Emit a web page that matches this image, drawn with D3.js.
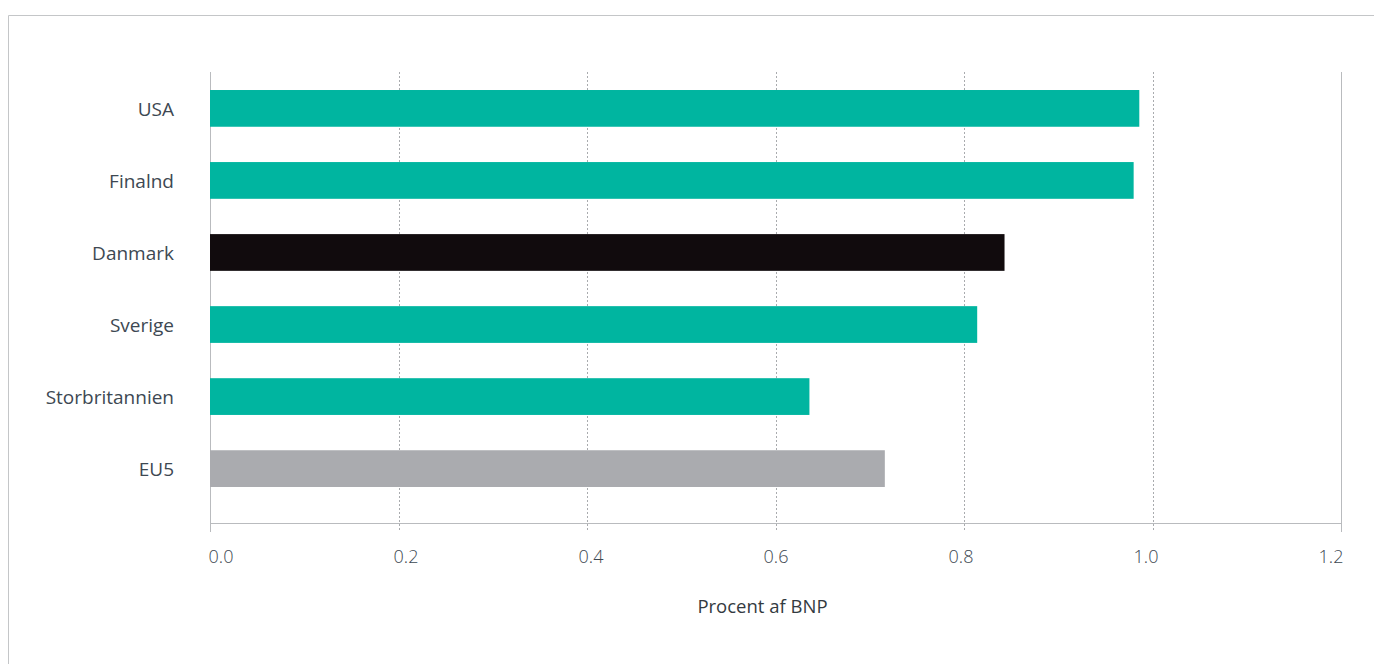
<!DOCTYPE html>
<html><head><meta charset="utf-8">
<script src="https://cdn.jsdelivr.net/npm/d3@7"></script>
<style>body{margin:0;background:#fff;} svg{display:block;}</style>
</head><body>
<script>
const categories = ["USA", "Finalnd", "Danmark", "Sverige", "Storbritannien", "EU5"];
const values = [0.986, 0.980, 0.843, 0.814, 0.636, 0.716];
const barColors = ["#00b5a0", "#00b5a0", "#110b0d", "#00b5a0", "#00b5a0", "#aaabaf"];
const xTicks = [0, 0.2, 0.4, 0.6, 0.8, 1.0, 1.2];
const xTitle = "Procent af BNP";

(function () {
const W = 1374, H = 664;
const svg = d3.select("body").append("svg").attr("width", W).attr("height", H);
const font = "'Open Sans', 'DejaVu Sans', sans-serif";
const textColor = "#3d4852";

// frame
svg.append("path").attr("d", `M8.5,${H} V15.5 H${W}`).attr("fill", "none").attr("stroke", "#c4c6c8").attr("stroke-width", 1);

const x = d3.scaleLinear().domain([0, 1.2]).range([210, 1341]);
// tick labels are spread slightly inside the axis span in the reference
const xLabel = d3.scaleLinear().domain([0, 1.2]).range([221, 1331]);
const y = d3.scaleBand().domain(categories).range([72, 505]).paddingInner(0.49).paddingOuter(0.25);
const plotTop = 72, axisY = 523, tickEnd = 532;

// gridlines
svg.append("g").selectAll("line").data(xTicks).join("line")
  .attr("x1", d => Math.round(x(d)) + 0.5).attr("x2", d => Math.round(x(d)) + 0.5)
  .attr("y1", plotTop).attr("y2", tickEnd)
  .attr("stroke", d => (d === 0 || d === 1.2) ? "#b9bbbe" : "#a9abae")
  .attr("stroke-width", 1)
  .attr("stroke-dasharray", d => (d === 0 || d === 1.2) ? null : "2,2");

// bars
svg.append("g").selectAll("rect").data(categories).join("rect")
  .attr("x", x(0)).attr("y", d => y(d))
  .attr("width", (d, i) => x(values[i]) - x(0))
  .attr("height", y.bandwidth())
  .attr("fill", (d, i) => barColors[i]);

// x axis
const xAxis = d3.axisBottom(x).tickValues(xTicks).tickFormat(d3.format(".1f")).tickSize(0).tickPadding(27);
const gx = svg.append("g").attr("transform", `translate(0,${axisY})`).call(xAxis);
gx.select(".domain").attr("stroke", "#b9bbbe").attr("d", `M${x(0)},0.5H${x(1.2)}`);
gx.selectAll(".tick").attr("transform", d => `translate(${xLabel(d)},0)`);
gx.selectAll("text").attr("font-family", font).attr("font-size", 18).attr("font-weight", 300).attr("fill", textColor);

// y axis labels
const yAxis = d3.axisLeft(y).tickSize(0).tickPadding(36);
const gy = svg.append("g").attr("transform", `translate(${x(0)},0)`).call(yAxis);
gy.select(".domain").remove();
gy.selectAll("text").attr("font-family", font).attr("font-size", 19).attr("dy", "0.38em").attr("fill", textColor);

// axis title
svg.append("text").attr("x", 762.5).attr("y", 613)
  .attr("text-anchor", "middle").attr("font-family", font).attr("font-size", 18.5)
  .attr("fill", "#333a40").text(xTitle);
})();
</script>
</body></html>
